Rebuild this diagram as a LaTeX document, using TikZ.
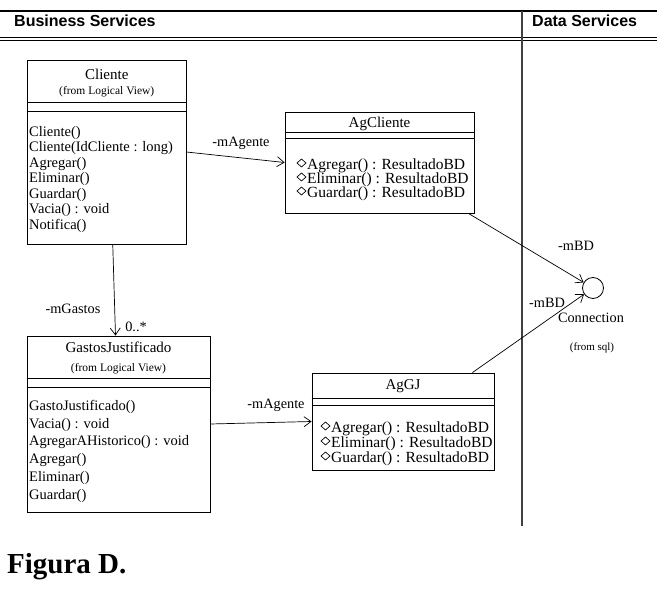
\documentclass[tikz,border=0pt]{standalone}
\usepackage{fontspec}
\setmainfont{Liberation Serif}
\newfontfamily\hdrfont{Liberation Sans}
\usetikzlibrary{arrows.meta}
\begin{document}
\begin{tikzpicture}[x=1pt,y=-1pt,
  umlbox/.style={draw, line width=0.8pt, inner sep=0pt},
  sepline/.style={line width=0.8pt},
  hdr/.style={inner sep=0pt, anchor=base west, font=\hdrfont\bfseries\fontsize{16}{18}\selectfont},
  ttl/.style={inner sep=0pt, text height=0.72em, text depth=0.22em, font=\fontsize{15}{17}\selectfont},
  subttl/.style={inner sep=0pt, text height=0.72em, text depth=0.22em, font=\fontsize{11.5}{13}\selectfont},
  meth/.style={inner sep=0pt, anchor=west, text height=0.72em, text depth=0.22em, font=\fontsize{14.5}{16}\selectfont},
  agmeth/.style={inner sep=0pt, anchor=west, text height=0.72em, text depth=0.22em, font=\fontsize{15.5}{17}\selectfont},
  lbl/.style={inner sep=0pt, text height=0.72em, text depth=0.22em, font=\fontsize{14.3}{16}\selectfont},
  small/.style={inner sep=0pt, text height=0.72em, text depth=0.22em, font=\fontsize{11}{13}\selectfont},
  assoc/.style={line width=0.7pt, -{Straight Barb[length=7pt,width=10pt]}},
  dmd/.style={line width=0.7pt}
]
\useasboundingbox (0,0) rectangle (657,596);
\fill[white] (0,0) rectangle (657,596);

% header
\draw[line width=2.6pt] (0,11) -- (657,11);
\draw[line width=1.1pt] (0,37.5) -- (657,37.5);
\draw[line width=1.1pt] (0,40.5) -- (657,40.5);
\draw[line width=1.3pt, black!75] (522,11) -- (522,526);
\node[hdr] (bs) at (14,27) {Business Services};
\node[hdr] (ds) at (532,27) {Data Services};

% Cliente
\node[umlbox, minimum width=158.5pt, minimum height=184pt] (cliente) at (106.75,152) {};
\draw[sepline] (cliente.west |- 0,102) -- (cliente.east |- 0,102);
\draw[sepline] (cliente.west |- 0,111) -- (cliente.east |- 0,111);
\node[ttl] (clienteT) at (106.75,77) {Cliente};
\node[subttl] (clienteS) at (106.75,92) {(from Logical View)};
\foreach \t/\y [count=\i] in {Cliente()/134, Cliente(IdCliente : long)/149.5, Agregar()/165, Eliminar()/180.5, Guardar()/196, Vacia() : void/211.5, Notifica()/227}
  \node[meth] (cm\i) at (29,\y) {\t};

% AgCliente
\node[umlbox, minimum width=189pt, minimum height=101pt] (agcliente) at (379.5,162.5) {};
\draw[sepline] (agcliente.west |- 0,132) -- (agcliente.east |- 0,132);
\draw[sepline] (agcliente.west |- 0,138) -- (agcliente.east |- 0,138);
\node[ttl] (agclienteT) at (379.5,125) {AgCliente};
\foreach \t/\y [count=\i] in {Agregar() : ResultadoBD/167, Eliminar() : ResultadoBD/181, Guardar() : ResultadoBD/195}{
  \node[agmeth] (am\i) at (307,\y) {\t};
  \draw[dmd] (297,\y-4) -- (301.5,\y-8) -- (306,\y-4) -- (301.5,\y) -- cycle;
}

% GastosJustificado
\node[umlbox, minimum width=183pt, minimum height=176pt] (gj) at (118.5,424) {};
\draw[sepline] (gj.west |- 0,378) -- (gj.east |- 0,378);
\draw[sepline] (gj.west |- 0,387) -- (gj.east |- 0,387);
\node[ttl] (gjT) at (118.5,350) {GastosJustificado};
\node[subttl] (gjS) at (118.5,369) {(from Logical View)};
\foreach \t/\y [count=\i] in {GastoJustificado()/408, Vacia() : void/426, AgregarAHistorico() : void/443.5, Agregar()/461, Eliminar()/479, Guardar()/497}
  \node[meth] (gm\i) at (29,\y) {\t};

% AgGJ
\node[umlbox, minimum width=182pt, minimum height=97pt] (aggj) at (403,421.5) {};
\draw[sepline] (aggj.west |- 0,398) -- (aggj.east |- 0,398);
\draw[sepline] (aggj.west |- 0,405) -- (aggj.east |- 0,405);
\node[ttl] (aggjT) at (403,387) {AgGJ};
\foreach \t/\y [count=\i] in {Agregar() : ResultadoBD/430, Eliminar() : ResultadoBD/445, Guardar() : ResultadoBD/460}{
  \node[agmeth] (gam\i) at (331,\y) {\t};
  \draw[dmd] (321,\y-4) -- (325.5,\y-8) -- (330,\y-4) -- (325.5,\y) -- cycle;
}

% Connection interface
\node[draw, circle, minimum size=21pt, inner sep=0pt, line width=0.8pt] (conn) at (593,288) {};
\node[lbl] (connT) at (591,320) {Connection};
\node[small] (connS) at (592,348) {(from sql)};

% connectors
\draw[assoc] (cliente.east) -- (agcliente.west);
\node[lbl] (l1) at (241,144) {-mAgente};
\draw[assoc] ([xshift=6pt]cliente.south) -- ([xshift=-3pt]gj.north);
\node[lbl] (l2) at (73,311) {-mGastos};
\node[lbl] (l3) at (136,329) {0..*};
\draw[assoc] (gj.east) -- (aggj.west);
\node[lbl] (l4) at (276,406) {-mAgente};
\draw[assoc] ([xshift=-6pt]agcliente.south east) -- (conn);
\node[lbl] (l5) at (576,248) {-mBD};
\draw[assoc] ([xshift=-22pt]aggj.north east) -- (conn);
\node[lbl] (l6) at (547,305) {-mBD};

% caption
\node[inner sep=0pt, anchor=base west, font=\bfseries\fontsize{29}{32}\selectfont] (cap) at (7,573) {Figura D.};
\end{tikzpicture}
\end{document}
